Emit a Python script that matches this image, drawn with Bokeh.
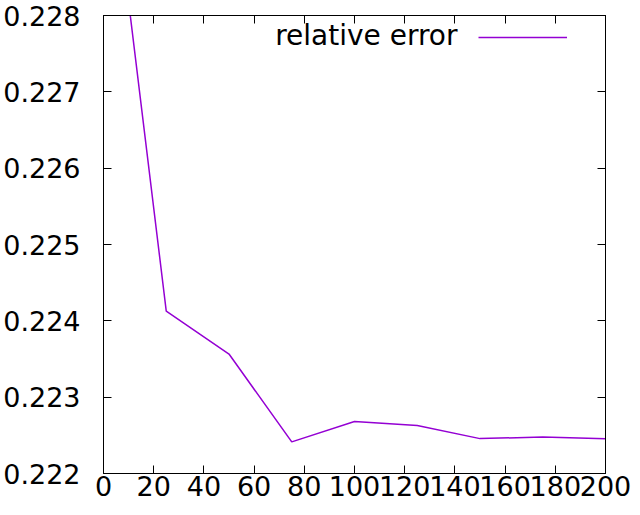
from bokeh.plotting import figure
from bokeh.models import (LinearAxis, Range1d, FixedTicker, PrintfTickFormatter,
                          Legend, LegendItem, Label)
from bokeh.embed import file_html
from bokeh.resources import INLINE

# data
iterations = [10, 25, 50, 75, 100, 125, 150, 175, 200]
rel_error = [0.22818, 0.224128, 0.223565, 0.222414, 0.222682, 0.22263, 0.222457, 0.222478, 0.222455]
x_ticks = [0, 20, 40, 60, 80, 100, 120, 140, 160, 180, 200]
y_ticks = [0.222, 0.223, 0.224, 0.225, 0.226, 0.227, 0.228]
series_name = "relative error"

FONT = "DejaVu Sans"
FS = "27px"
PURPLE = "#9400d3"

p = figure(width=632, height=507, output_backend="svg", toolbar_location=None,
           x_range=Range1d(0, 200), y_range=Range1d(0.222, 0.228),
           min_border_left=103, min_border_right=27, min_border_top=15, min_border_bottom=34,
           x_axis_location=None, y_axis_location=None)
p.grid.visible = False
p.outline_line_color = "black"
p.outline_line_width = 1
p.background_fill_color = "white"
p.border_fill_color = "white"

def style_axis(ax, ticks, fmt, show_labels, standoff):
    ax.ticker = FixedTicker(ticks=ticks)
    ax.formatter = PrintfTickFormatter(format=fmt)
    ax.axis_line_color = "black"
    ax.major_tick_line_color = "black"
    ax.major_tick_in = 8
    ax.major_tick_out = 0
    ax.minor_tick_line_color = None
    ax.major_label_text_font = FONT
    if show_labels:
        ax.major_label_text_color = "black"
        ax.major_label_text_font_size = FS
        ax.major_label_standoff = standoff
    else:
        ax.major_label_text_color = None
        ax.major_label_text_font_size = "0px"
        ax.major_label_standoff = 0

xb = LinearAxis(); style_axis(xb, x_ticks, "%d", True, 2)
yl = LinearAxis(); style_axis(yl, y_ticks, "%.3f", True, 23)
xt = LinearAxis(); style_axis(xt, x_ticks, "%d", False, 0)
yr = LinearAxis(); style_axis(yr, y_ticks, "%.3f", False, 0)
p.add_layout(xb, "below")
p.add_layout(yl, "left")
p.add_layout(xt, "above")
p.add_layout(yr, "right")

r = p.line(iterations, rel_error, line_color=PURPLE, line_width=1.5)

legend = Legend(items=[LegendItem(label=" ", renderers=[r])], location=(375, 426),
                glyph_width=89, glyph_height=20, label_width=0, label_standoff=0,
                label_text_font_size="1px", padding=0, margin=0, spacing=0,
                border_line_alpha=0, background_fill_alpha=0)
p.add_layout(legend, "center")

lbl = Label(x=354, y=438, x_units="screen", y_units="screen", text=series_name,
            text_font=FONT, text_font_size="28px", text_color="black",
            text_align="right", text_baseline="alphabetic")
p.add_layout(lbl)

open("out.html", "w").write(file_html(p, INLINE))
